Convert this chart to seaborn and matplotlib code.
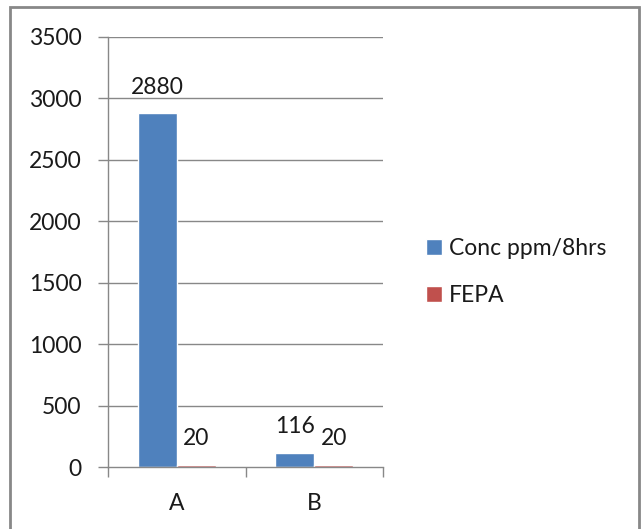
import matplotlib
matplotlib.use("Agg")
import matplotlib.pyplot as plt
from matplotlib.patches import Rectangle
import seaborn as sns
import pandas as pd

categories = ["A", "B"]
series = ["Conc ppm/8hrs", "FEPA"]
conc_values = [2880, 116]
fepa_values = [20, 20]
colors = ["#4F81BD", "#C0504D"]

df = pd.DataFrame({
    "cat": categories * 2,
    "series": [series[0]] * 2 + [series[1]] * 2,
    "value": conc_values + fepa_values,
})

sns.set_theme(style="white")
plt.rcParams["font.family"] = ["Lato", "DejaVu Sans"]

FS = 16.5
TXT = "#1a1a1a"
W, H = 642, 529
fig = plt.figure(figsize=(W / 100, H / 100), dpi=100)
ax = fig.add_axes([108 / W, 1 - 467 / H, (383 - 108) / W, (467 - 37) / H])

sns.barplot(data=df, x="cat", y="value", hue="series", palette=colors,
            width=0.57, saturation=1, ax=ax, legend=True)

ax.set_ylim(0, 3500)
ax.set_xlim(-0.5, 1.5)
ax.set_yticks(range(0, 3501, 500))
ax.set_yticklabels([str(v) for v in range(0, 3501, 500)], fontsize=FS, color=TXT)
ax.set_xticks([0, 1])
ax.set_xticklabels(categories, fontsize=FS, color=TXT)
ax.set_xlabel("")
ax.set_ylabel("")

grid_c = "#888888"
for v in range(500, 3501, 500):
    ax.axhline(v, color=grid_c, lw=1, zorder=0)
for s in ["top", "right"]:
    ax.spines[s].set_visible(False)
for s in ["left", "bottom"]:
    ax.spines[s].set_color(grid_c)
    ax.spines[s].set_linewidth(1)

# tick marks: left ticks on y, x ticks at category boundaries
ax.tick_params(axis="y", left=True, length=7, width=1, color=grid_c, pad=12)
ax.tick_params(axis="x", bottom=False, pad=13)
ax.set_xticks([-0.5, 0.5, 1.5], minor=True)
ax.tick_params(axis="x", which="minor", bottom=True, length=7, width=1, color=grid_c)

# value labels
for cont in ax.containers:
    ax.bar_label(cont, labels=[f"{int(v)}" for v in cont.datavalues],
                 padding=11, fontsize=FS, color=TXT)

# legend to the right of plot
handles, labels = ax.get_legend_handles_labels()
ax.legend_.remove()
fig.legend(handles, labels, loc="center left", bbox_to_anchor=(405 / W, 1 - 272 / H),
           frameon=False, fontsize=FS, handlelength=0.7, handleheight=0.7,
           handletextpad=0.3, labelspacing=1.1, labelcolor=TXT)

# outer chart border
fig.patches.append(Rectangle((10 / W, -0.05), (639 - 10) / W, 1.05 - 7 / H,
                             transform=fig.transFigure, fill=False,
                             edgecolor="#888888", lw=2))

fig.savefig("out.png", dpi=100, facecolor="white")
